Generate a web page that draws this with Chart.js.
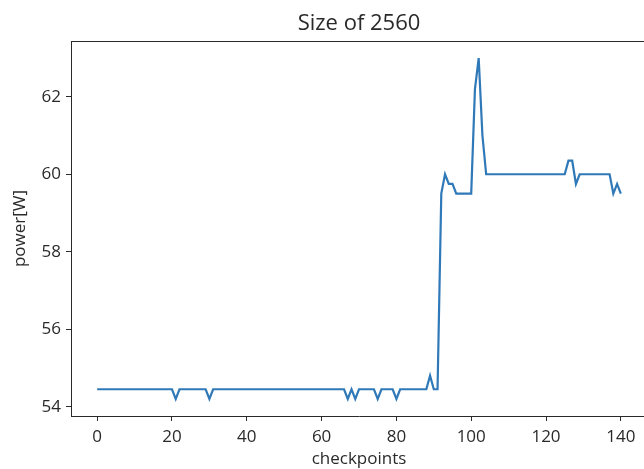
<!DOCTYPE html>
<html>
<head>
<meta charset="utf-8">
<script src="https://cdn.jsdelivr.net/npm/chart.js@4.4.0/dist/chart.umd.min.js"></script>
<style>
  html, body { margin: 0; padding: 0; background: #fff; overflow: hidden; }
  #wrap { width: 644px; height: 469px; overflow: hidden; }
</style>
</head>
<body>
<div id="wrap"><canvas id="power"></canvas></div>
<script>
// power readings per checkpoint (0..140)
const power = [
  54.45, 54.45, 54.45, 54.45, 54.45, 54.45, 54.45, 54.45, 54.45, 54.45,
  54.45, 54.45, 54.45, 54.45, 54.45, 54.45, 54.45, 54.45, 54.45, 54.45,
  54.45, 54.2, 54.45, 54.45, 54.45, 54.45, 54.45, 54.45, 54.45, 54.45,
  54.2, 54.45, 54.45, 54.45, 54.45, 54.45, 54.45, 54.45, 54.45, 54.45,
  54.45, 54.45, 54.45, 54.45, 54.45, 54.45, 54.45, 54.45, 54.45, 54.45,
  54.45, 54.45, 54.45, 54.45, 54.45, 54.45, 54.45, 54.45, 54.45, 54.45,
  54.45, 54.45, 54.45, 54.45, 54.45, 54.45, 54.45, 54.2, 54.45, 54.2,
  54.45, 54.45, 54.45, 54.45, 54.45, 54.2, 54.45, 54.45, 54.45, 54.45,
  54.2, 54.45, 54.45, 54.45, 54.45, 54.45, 54.45, 54.45, 54.45, 54.8,
  54.45, 54.45, 59.5, 60.0, 59.75, 59.75, 59.5, 59.5, 59.5, 59.5,
  59.5, 62.2, 63.0, 61.0, 60.0, 60.0, 60.0, 60.0, 60.0, 60.0,
  60.0, 60.0, 60.0, 60.0, 60.0, 60.0, 60.0, 60.0, 60.0, 60.0,
  60.0, 60.0, 60.0, 60.0, 60.0, 60.0, 60.35, 60.35, 59.75, 60.0,
  60.0, 60.0, 60.0, 60.0, 60.0, 60.0, 60.0, 60.0, 59.5, 59.75,
  59.5
]
const xTicks = [0, 20, 40, 60, 80, 100, 120, 140]
const yTicks = [54, 56, 58, 60, 62]

const font = 'Open Sans'
const ink = '#2a2a2a'

// top spine (chart.js only draws the left/bottom borders)
const topSpine = {
  id: 'topSpine',
  afterDraw(chart) {
    const { ctx, chartArea } = chart
    ctx.save()
    ctx.strokeStyle = ink
    ctx.lineWidth = 1
    ctx.beginPath()
    ctx.moveTo(chartArea.left, chartArea.top + 0.5)
    ctx.lineTo(chartArea.right, chartArea.top + 0.5)
    ctx.stroke()
    ctx.restore()
  }
}

const canvas = document.getElementById('power')
canvas.style.width = '660px'
canvas.style.height = '469px'

new Chart(canvas, {
  type: 'line',
  data: {
    datasets: [{
      data: power.map((v, i) => ({ x: i, y: v })),
      borderColor: '#3079b8',
      borderWidth: 2.2,
      pointRadius: 0,
      tension: 0,
      fill: false
    }]
  },
  options: {
    responsive: false,
    animation: false,
    layout: { padding: { left: 0, right: 13, top: 0, bottom: 0 } },
    plugins: {
      legend: { display: false },
      tooltip: { enabled: false },
      title: {
        display: true,
        fullSize: false,
        text: 'Size of 2560',
        color: ink,
        font: { family: font, size: 22, weight: 'normal', lineHeight: '27px' },
        padding: { top: 10, bottom: 4 }
      }
    },
    scales: {
      x: {
        type: 'linear',
        min: -7,
        max: 147,
        afterBuildTicks: s => { s.ticks = xTicks.map(v => ({ value: v })) },
        afterFit: s => { s.height = 53 },
        border: { display: true, color: ink, width: 1 },
        grid: { drawOnChartArea: false, drawTicks: true, tickLength: 5, color: ink },
        ticks: { color: ink, padding: 6, maxRotation: 0, font: { family: font, size: 17 } },
        title: {
          display: true,
          text: 'checkpoints',
          color: ink,
          font: { family: font, size: 17 },
          padding: { top: 0, bottom: 0 }
        }
      },
      y: {
        min: 53.76,
        max: 63.44,
        afterBuildTicks: s => { s.ticks = yTicks.map(v => ({ value: v })) },
        afterFit: s => { s.width = 71 },
        border: { display: true, color: ink, width: 1 },
        grid: { drawOnChartArea: false, drawTicks: true, tickLength: 5, color: ink },
        ticks: { color: ink, padding: 5, font: { family: font, size: 17 } },
        title: {
          display: true,
          text: 'power[W]',
          color: ink,
          font: { family: font, size: 17 },
          padding: { top: 10, bottom: 0 }
        }
      }
    }
  },
  plugins: [topSpine]
})
</script>
</body>
</html>
